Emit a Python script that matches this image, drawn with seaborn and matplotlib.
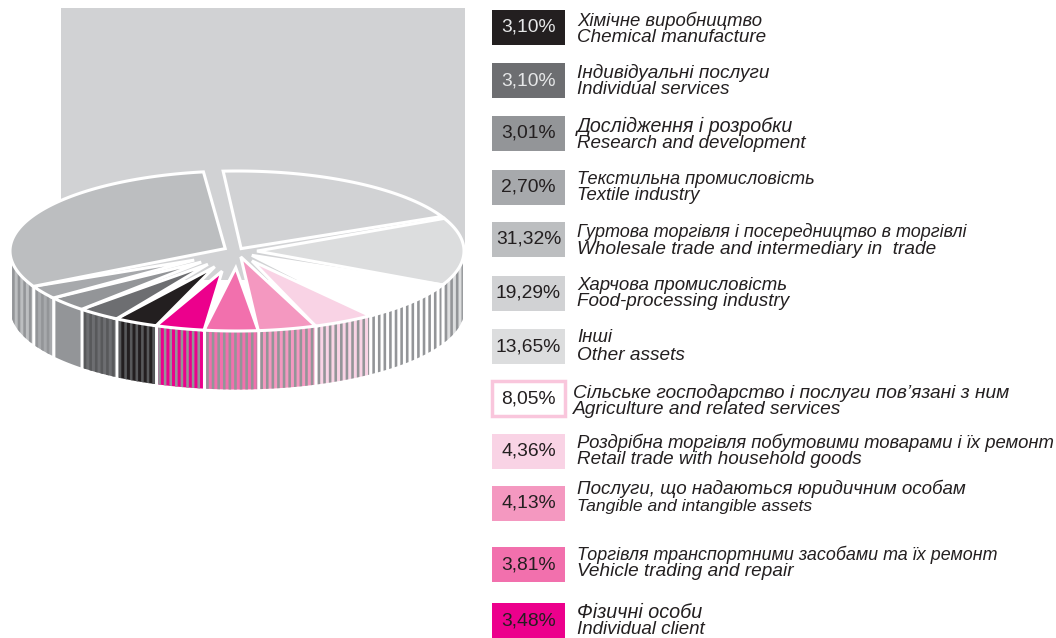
import numpy as np
import seaborn as sns
import matplotlib.pyplot as plt
from matplotlib.patches import Rectangle

sns.set_theme(style='white')
plt.rcParams['font.family'] = ['Liberation Sans', 'DejaVu Sans']

# legend order, top to bottom
pct_labels = ['3,10%', '3,10%', '3,01%', '2,70%', '31,32%', '19,29%', '13,65%',
              '8,05%', '4,36%', '4,13%', '3,81%', '3,48%']
values = [3.10, 3.10, 3.01, 2.70, 31.32, 19.29, 13.65, 8.05, 4.36, 4.13, 3.81, 3.48]
names_uk = ['Хімічне виробництво', 'Індивідуальні послуги', 'Дослідження і розробки',
            'Текстильна промисловість', 'Гуртова торгівля і посередництво в торгівлі',
            'Харчова промисловість', 'Інші', 'Сільське господарство і послуги пов’язані з ним',
            'Роздрібна торгівля побутовими товарами і їх ремонт',
            'Послуги, що надаються юридичним особам',
            'Торгівля транспортними засобами та їх ремонт', 'Фізичні особи']
names_en = ['Chemical manufacture', 'Individual services', 'Research and development',
            'Textile industry', 'Wholesale trade and intermediary in  trade',
            'Food-processing industry', 'Other assets', 'Agriculture and related services',
            'Retail trade with household goods', 'Tangible and intangible assets',
            'Vehicle trading and repair', 'Individual client']
colors = sns.color_palette(['#231F20', '#6D6E71', '#939598', '#A7A9AC', '#BCBEC0', '#D1D2D4',
                            '#DCDDDE', '#FFFFFF', '#F9D3E5', '#F498C0', '#F270AD', '#EC008C'])

# order of the slices clockwise from the top of the pie
pie_order = [5, 6, 7, 8, 9, 10, 11, 0, 1, 2, 3, 4]
# how far each slice tip sits from the pie centre, as a share of the radius
tip_shift = [0.035, 0.088, 0.085, 0.14, 0.075, 0.21, 0.26, 0.22, 0.21, 0.21, 0.22, 0.06]
# degrees cut from the low-angle end of a slice's top face, for the gaps on the rim
rim_trim = [1.5, 0, 0, 0, 0, 0, 0, 0, 0, 0, 0, 5]

W, H = 1056, 638
CX, CY, RX, RY, DEPTH = 237, 251, 227, 80, 58
START = 93.5

fig = plt.figure(figsize=(W / 100, H / 100), dpi=100)

# page axes in pixels, y going down
page = fig.add_axes([0, 0, 1, 1])
page.set_xlim(0, W)
page.set_ylim(H, 0)
page.axis('off')
page.add_patch(Rectangle((61, 8), 404, 242, fc='#D1D2D4', ec='none'))
page.add_patch(Rectangle((61, 250), 379, 30, fc='#D1D2D4', ec='none'))

box_top = [10, 63, 116, 170, 222, 276, 329, 381, 434, 486, 547, 603]
line1_y = [21, 73, 126, 179, 232, 285, 338, 393, 443, 489, 555, 612]
line2_y = [38, 90, 143, 196, 249, 302, 356, 410, 460, 506, 572, 629]
uk_size = [13.3, 13.7, 14.1, 13.1, 13.0, 13.4, 13.4, 13.8, 13.3, 13.5, 12.9, 14.2]
en_size = [13.6, 13.4, 13.5, 13.3, 13.7, 13.6, 13.7, 13.8, 13.6, 12.6, 13.7, 13.5]
for i in range(12):
    is_white = colors[i] == (1.0, 1.0, 1.0)
    page.add_patch(Rectangle((492, box_top[i]), 73, 35, fc=colors[i],
                             ec='#F9C6DC' if is_white else 'none', lw=2.5))
    page.text(528.5, box_top[i] + 17.5, pct_labels[i], ha='center', va='center', fontsize=13.9,
              color='#E6E7E8' if i < 2 else '#231F20')
    tx = 573 if is_white else 577
    page.text(tx, line1_y[i], names_uk[i], style='italic', fontsize=uk_size[i], va='center', color='#231F20')
    page.text(tx, line2_y[i], names_en[i], style='italic', fontsize=en_size[i], va='center', color='#231F20')

# pie axes: one data unit is RX pixels across and RY pixels up
ax = fig.add_axes([0, 0, 1, 1], facecolor='none')
vals = [values[i] for i in pie_order]
cols = [colors[i] for i in pie_order]
wedges, _ = ax.pie(vals, colors=cols, startangle=START, counterclock=False)

d = DEPTH / RY
stripe_step = 5.6 / RX
gap = 1.6 / RX
for w, col, order_i, e, trim in zip(wedges, cols, pie_order, tip_shift, rim_trim):
    # the pie gives the angles; the slice is redrawn with its tip pulled off-centre
    t1, t2 = w.theta1, w.theta2
    w.remove()
    mid = np.radians((t1 + t2) / 2)
    arc = np.radians(np.linspace(t1 + trim, t2, 80))
    px = np.r_[e * np.cos(mid), np.cos(arc)]
    py = np.r_[e * np.sin(mid), np.sin(arc)]
    ax.fill(px, py, fc=col, ec='white', lw=2.2, zorder=1)

    # side wall: vertical stripes under the front of the rim
    a = t1 % 360
    b = a + (t2 - t1)
    lo = max(a, 180)
    hi = min(b, 360)
    if a < 180 and b > 360:
        lo, hi = 180, 360
    elif b <= 180:
        lo, hi = a + 360, min(b + 360, 360)
    if hi <= lo:
        continue
    x_a = np.cos(np.radians(lo))
    x_b = np.cos(np.radians(hi))
    xs = np.linspace(x_a + gap, x_b - gap, 40)
    rim = -np.sqrt(1 - xs ** 2)
    ax.fill_between(xs, rim, rim - d, color='#939598' if order_i == 2 else col, lw=0, zorder=0.5)
    if order_i == 2:
        continue
    stripe = '#58595B' if order_i in (0, 1) else '#939598'
    for s in np.arange(x_a + gap, x_b - gap, stripe_step):
        sx = np.linspace(s, min(s + 2.6 / RX, x_b - gap), 4)
        r = -np.sqrt(1 - sx ** 2)
        ax.fill_between(sx, r, r - d, color=stripe, lw=0, zorder=0.6)

ax.set_aspect('auto')
ax.set_xlim(-CX / RX, (W - CX) / RX)
ax.set_ylim((CY - H) / RY, CY / RY)
ax.axis('off')

fig.savefig('out.png', dpi=100)
